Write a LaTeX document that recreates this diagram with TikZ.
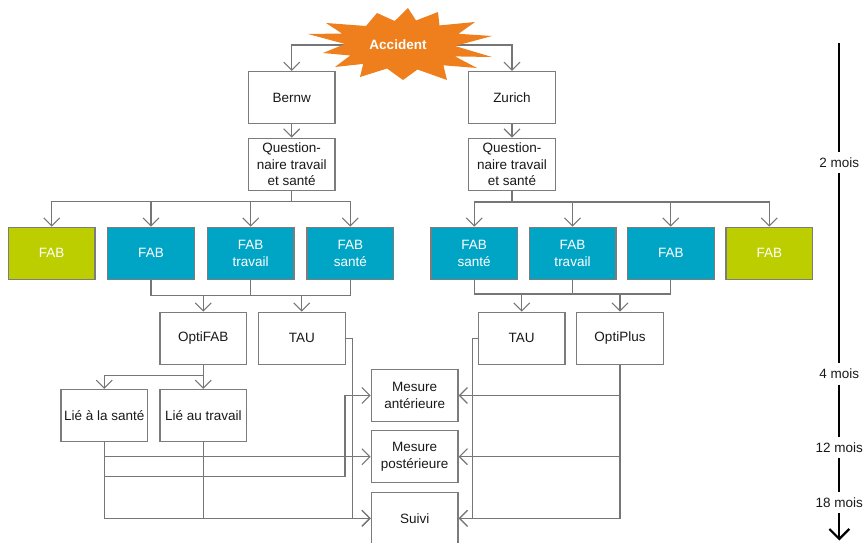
\documentclass[tikz,border=0pt]{standalone}
\usepackage{fontspec}
\setmainfont{Liberation Sans}
\usetikzlibrary{arrows.meta}
\definecolor{cy}{HTML}{00A5C6}
\definecolor{gr}{HTML}{BCCE00}
\definecolor{accor}{HTML}{EE7F1C}
\definecolor{boxgray}{HTML}{7C7C7C}
\definecolor{linegray}{HTML}{767676}
\begin{document}
\begin{tikzpicture}[x=1pt,y=-1pt,
  txt/.style={font=\fontsize{13.5}{16.3}\selectfont},
  box/.style={txt, draw=boxgray, line width=1.3pt, minimum width=86.7pt, minimum height=52pt, inner sep=2pt, align=center, text=black!90},
  cbox/.style={box, fill=cy, text=white},
  gbox/.style={box, fill=gr, text=white},
  con/.style={draw=linegray, line width=1.1pt},
  arr/.style={con, -{Straight Barb[length=8pt,width=16pt]}},
  tl/.style={txt, inner sep=0pt, minimum height=21pt, text=black!90},
  tline/.style={draw=black, line width=2.2pt}]
\useasboundingbox (0,0) rectangle (863,542);

% nodes
\node[box] (bern) at (291.7,97.5) {Bernw};
\node[box] (zur) at (512,97.5) {Zurich};
\node[box] (q1) at (291.7,164.2) {Question-\\naire travail\\et santé};
\node[box] (q2) at (512,164.2) {Question-\\naire travail\\et santé};

\node[gbox] (fab1) at (51.7,253.3) {FAB};
\node[cbox] (fab2) at (151,253.3) {FAB};
\node[cbox] (fab3) at (250.7,253.3) {FAB\\travail};
\node[cbox] (fab4) at (350.3,253.3) {FAB\\santé};
\node[cbox] (r1) at (474.2,253.3) {FAB\\santé};
\node[cbox] (r2) at (572.5,253.3) {FAB\\travail};
\node[cbox] (r3) at (670.8,253.3) {FAB};
\node[gbox] (r4) at (769.3,253.3) {FAB};

\node[box] (optifab) at (203.3,338.3) {OptiFAB};
\node[box] (taul) at (301.8,338.3) {TAU};
\node[box] (taur) at (521.7,338.3) {TAU};
\node[box] (optiplus) at (620,338.3) {OptiPlus};

\node[box] (lies) at (104.3,415.5) {Lié à la santé};
\node[box] (liet) at (203.3,415.5) {Lié au travail};

\node[box] (ma) at (414.7,395.5) {Mesure\\antérieure};
\node[box] (mp) at (414.7,456.7) {Mesure\\postérieure};
\node[box] (suivi) at (414.7,518.3) {Suivi};

% accident connectors (drawn under the star)
\coordinate (acc) at (400,45);
\draw[arr] (acc) -| (bern.north);
\draw[arr] (acc) -| (zur.north);

% star
\begin{scope}[shift={(400,45)}]
\fill[accor] (8,-37) -- (16,-24.5) -- (38,-33) -- (39.5,-19.6) -- (75,-23) -- (58.5,-11.2)
  -- (92,-9) -- (55,1) -- (92,12) -- (55,11.4) -- (77,23) -- (43.4,20.3) -- (47,35)
  -- (17.5,24.5) -- (3,35) -- (-13,23.5) -- (-40,32) -- (-36.8,18.9) -- (-65,22)
  -- (-49.7,10.5) -- (-77,8) -- (-55,-1) -- (-92,-11) -- (-58,-11.5) -- (-74,-22)
  -- (-34,-19) -- (-23,-32) -- (-5.3,-24) -- cycle;
\end{scope}
\node[font=\bfseries\fontsize{13.5}{16}\selectfont, text=white] (acclabel) at (398,45) {Accident};

% top connectors
\draw[arr] (bern.south) -- (q1.north);
\draw[arr] (zur.south) -- (q2.north);

% bracket left
\coordinate (bl) at (291.7,201.7);
\draw[con] (q1.south) -- (bl);
\foreach \n in {fab1,fab2,fab3,fab4} \draw[arr] (bl) -| (\n.north);
% bracket right
\coordinate (br) at (512,202);
\draw[con] (q2.south) -- (br);
\foreach \n in {r1,r2,r3,r4} \draw[arr] (br) -| (\n.north);

% lower bracket left
\coordinate (jl) at (0,295.7);
\draw[con] (fab2.south) |- (jl -| fab4.south) -- (fab4.south);
\draw[con] (fab3.south) -- (fab3.south |- jl);
\draw[arr] (optifab.north |- jl) -- (optifab.north);
\draw[arr] (taul.north |- jl) -- (taul.north);
% lower bracket right
\coordinate (jr) at (0,294);
\draw[con] (r1.south) |- (jr -| r3.south) -- (r3.south);
\draw[con] (r2.south) -- (r2.south |- jr);
\draw[arr] (taur.north |- jr) -- (taur.north);
\draw[arr] (optiplus.north |- jr) -- (optiplus.north);

% OptiFAB to Lie
\coordinate (jo) at (203.3,375.7);
\draw[con] (optifab.south) -- (jo);
\draw[arr] (jo) -| (lies.north);
\draw[arr] (jo) -- (liet.north);

% left lower connectors
\draw[arr] (lies.south) |- (suivi.west);
\draw[con] (liet.south) -- (liet.south |- suivi.west);
\draw[arr] (lies.south |- mp.west) -- (mp.west);
\coordinate (k1) at (345,476.7);
\draw[arr] (lies.south |- k1) -- (k1) |- (ma.west);
\draw[arr] (taul.east) -- ++(6.7,0) |- (suivi.west);

% right lower connectors
\draw[arr] (taur.west) -- ++(-5,0) |- (suivi.east);
\draw[arr] (optiplus.south) |- (suivi.east);
\draw[arr] (optiplus.south |- ma.east) -- (ma.east);
\draw[arr] (optiplus.south |- mp.east) -- (mp.east);

% timeline
\coordinate (t0) at (839.3,43.3);
\node[tl] (m2) at (839.3,162.5) {2 mois};
\node[tl] (m4) at (839.3,374) {4 mois};
\node[tl] (m12) at (839.3,447.5) {12 mois};
\node[tl] (m18) at (839.3,502.5) {18 mois};
\coordinate (tend) at (839.3,540.5);
\draw[tline] (t0) -- (m2.north);
\draw[tline] (m2.south) -- (m4.north);
\draw[tline] (m4.south) -- (m12.north);
\draw[tline] (m12.south) -- (m18.north);
\draw[tline, -{Straight Barb[length=10pt,width=20pt]}] (m18.south) -- (tend);
\end{tikzpicture}
\end{document}
